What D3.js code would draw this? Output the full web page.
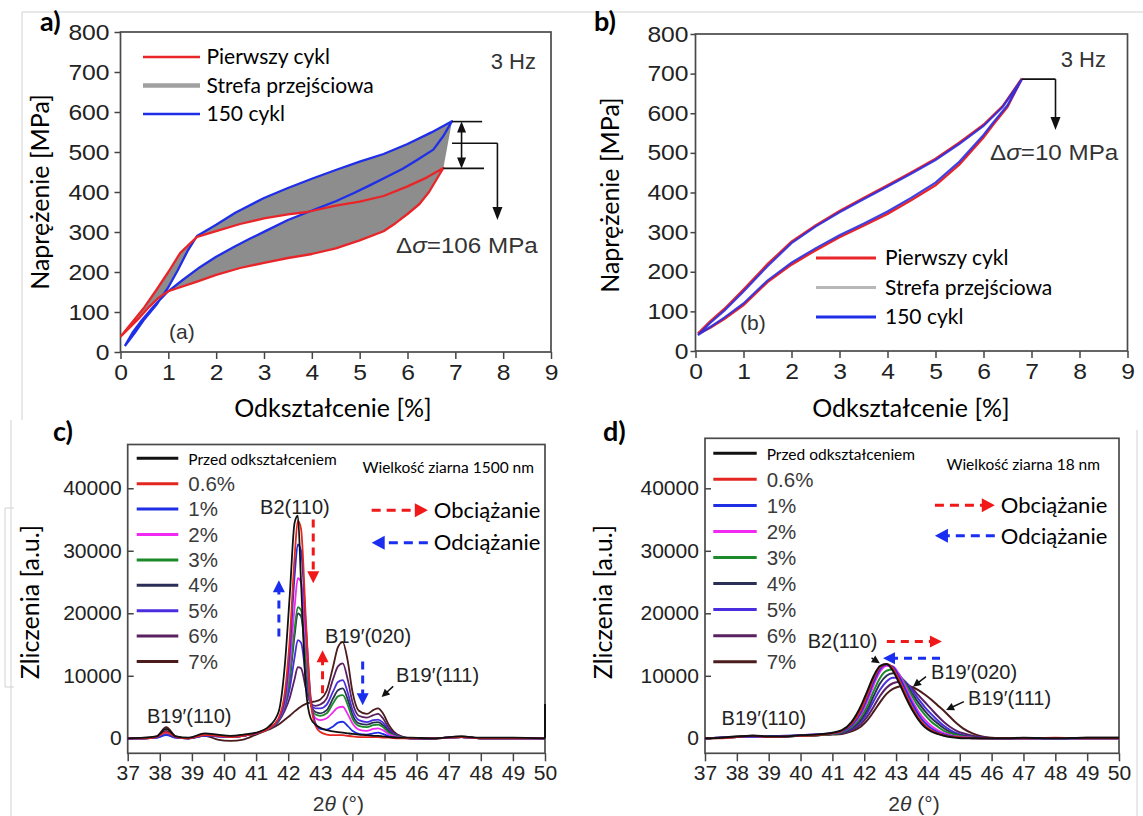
<!DOCTYPE html>
<html>
<head>
<meta charset="utf-8">
<script src="https://cdn.jsdelivr.net/npm/d3@7"></script>
<style>
  body { margin: 0; background: #fff; overflow: hidden; }
  svg { display: block; }
  text { font-family: "Liberation Sans", Arial, sans-serif; }
  .cal { font-family: Lato, "Open Sans", sans-serif; }
</style>
</head>
<body>
<svg id="fig" width="1143" height="816"></svg>
<script>
// ---- tick values
const strainTicks = [0, 1, 2, 3, 4, 5, 6, 7, 8, 9]
const stressTicks = [0, 100, 200, 300, 400, 500, 600, 700, 800]
const angleTicks = [37, 38, 39, 40, 41, 42, 43, 44, 45, 46, 47, 48, 49, 50]
const countTicks = [0, 10, 20, 30, 40]   // thousands

// ---- panel a: 1500 nm grain, strain [%] vs stress [MPa]
const aRedLoadX = [0, 0.25, 0.5, 0.75, 1.0, 1.25, 1.6, 2.0, 2.5, 3.0, 3.5, 3.9, 4.5, 5.0, 5.5, 6.0, 6.4, 6.75]
const aRedLoadY = [38, 75, 112, 155, 200, 248, 288, 302, 320, 334, 344, 350, 366, 376, 390, 414, 436, 460]
const aRedUnloadX = [6.75, 6.6, 6.45, 6.25, 6.0, 5.75, 5.5, 5.0, 4.5, 4.0, 3.5, 3.0, 2.5, 2.0, 1.6, 1.2, 1.0, 0.8, 0.6, 0.4, 0.2, 0]
const aRedUnloadY = [460, 430, 400, 370, 345, 322, 302, 279, 259, 245, 235, 223, 210, 193, 176, 160, 152, 136, 113, 86, 62, 38]
const aBlueLoadX = [0.09, 0.3, 0.5, 0.75, 1.0, 1.2, 1.4, 1.6, 2.0, 2.4, 3.0, 3.5, 4.0, 4.5, 5.0, 5.5, 6.0, 6.5, 6.93]
const aBlueLoadY = [15, 48, 82, 118, 162, 205, 252, 290, 318, 348, 385, 410, 433, 455, 476, 495, 520, 549, 577]
const aBlueUnloadX = [6.93, 6.75, 6.54, 6.2, 5.9, 5.57, 5.2, 4.87, 4.5, 4.03, 3.5, 3.06, 2.7, 2.36, 2.0, 1.66, 1.3, 0.97, 0.7, 0.45, 0.25, 0.09]
const aBlueUnloadY = [577, 540, 506, 480, 458, 438, 416, 397, 377, 355, 330, 304, 283, 262, 238, 212, 180, 149, 115, 80, 48, 15]

// ---- panel b: 18 nm grain
const bLoadX = [0.05, 0.3, 0.6, 1.0, 1.5, 2.0, 2.5, 3.0, 3.5, 4.0, 4.5, 5.0, 5.5, 6.0, 6.4, 6.8]
const bBlueLoadY = [40, 70, 102, 150, 214, 272, 314, 350, 383, 415, 448, 482, 523, 568, 616, 686]
const bRedLoadY = [44, 74, 106, 155, 219, 276, 317, 353, 386, 418, 451, 485, 526, 571, 618, 688]
const bUnloadX = [6.8, 6.5, 6.2, 6.0, 5.5, 5.0, 4.5, 4.0, 3.5, 3.0, 2.5, 2.0, 1.5, 1.0, 0.6, 0.3, 0.05]
const bBlueUnloadY = [686, 620, 576, 545, 478, 425, 387, 352, 321, 292, 259, 223, 178, 120, 84, 60, 40]
const bRedUnloadY = [688, 616, 571, 539, 471, 418, 381, 346, 316, 287, 254, 218, 174, 116, 81, 58, 44]

const loopLabels = ["Pierwszy cykl", "Strefa przejściowa", "150 cykl"]

// ---- panels c, d: XRD patterns, counts in thousands
const xrdLabels = ["Przed odkształceniem", "0.6%", "1%", "2%", "3%", "4%", "5%", "6%", "7%"]
const xrdColors = ["#111111", "#e3261f", "#1f2fe6", "#f02af0", "#1c8a2a", "#2b2f55", "#4b2de0", "#5a2060", "#4a1c1c"]

const angleC = [37, 37.5, 37.9, 38.2, 38.5, 38.9, 39.4, 39.8, 40.2, 40.6, 41.0, 41.4, 41.7, 41.9, 42.05, 42.2, 42.3, 42.4, 42.55, 42.7, 42.85, 43.0, 43.2, 43.4, 43.55, 43.7, 43.85, 44.0, 44.2, 44.45, 44.65, 44.8, 44.95, 45.15, 45.4, 45.8, 46.5, 47.4, 48.0, 49.0, 50]
const cBefore = [0, 0.1, 0.3, 1.5, 0.3, 0.1, 0.8, 0.6, 0.4, 0.6, 0.9, 1.9, 4.2, 12, 23, 34.5, 35.6, 25, 8, 3.2, 2.2, 1.7, 1.3, 1.1, 1.0, 0.9, 0.8, 0.7, 0.6, 0.5, 0.4, 0.4, 0.3, 0.2, 0.1, 0.1, 0, 0.3, 0.1, 0.1, 0]
const c06 = [0, 0, 0.2, 1.0, 0.2, 0, 0.5, 0.4, 0.2, 0.4, 0.8, 1.6, 3.2, 7.5, 16, 29, 34.8, 33.5, 19, 6, 2.0, 1.0, 0.6, 0.5, 0.5, 0.5, 0.4, 0.3, 0.2, 0.2, 0.2, 0.2, 0.1, 0.1, 0, 0, 0, 0.2, 0, 0, 0]
const c1 = [0, 0, 0.1, 0.5, 0.1, 0, 0.4, 0.3, 0.2, 0.4, 0.8, 1.6, 3.0, 6.5, 14, 26, 31, 30, 18, 6.5, 2.4, 1.5, 1.4, 1.9, 2.5, 2.65, 2.0, 1.2, 0.7, 0.6, 0.8, 0.9, 0.7, 0.3, 0.1, 0, 0, 0.2, 0, 0, 0]
const c2 = [0, 0, 0.2, 0.9, 0.2, 0, 0.5, 0.3, 0.2, 0.4, 0.8, 1.6, 3.0, 6.0, 12, 21, 25.6, 25, 15.5, 6, 3.2, 2.9, 3.2, 4.2, 4.9, 5.05, 3.9, 2.4, 1.4, 1.2, 1.5, 1.6, 1.3, 0.6, 0.2, 0, 0, 0.2, 0, 0, 0]
const c3 = [0, 0, 0.2, 0.8, 0.2, 0, 0.5, 0.3, 0.2, 0.4, 0.8, 1.6, 2.9, 5.5, 10, 17.5, 21, 20.5, 13, 5.5, 3.8, 3.6, 4.0, 5.6, 6.7, 6.9, 5.4, 3.2, 2.0, 1.8, 2.1, 2.2, 1.8, 0.8, 0.3, 0, 0, 0.2, 0, 0, 0]
const c4 = [0, 0, 0.2, 1.0, 0.2, 0, 0.6, 0.4, 0.2, 0.4, 0.8, 1.6, 2.9, 5.4, 9.5, 16.5, 20, 19.5, 12.5, 5.6, 4.2, 4.0, 4.5, 6.4, 7.7, 8.0, 6.3, 3.8, 2.4, 2.2, 2.5, 2.6, 2.1, 1.0, 0.3, 0, 0, 0.2, 0, 0, 0]
const c5 = [0, 0, 0.1, 0.6, 0.1, 0, 0.5, 0.3, 0.2, 0.4, 0.8, 1.6, 2.8, 5.0, 8.0, 13, 15.7, 15.3, 10, 5.5, 4.8, 4.8, 5.4, 7.5, 9.0, 9.3, 7.4, 4.6, 2.9, 2.6, 2.9, 3.0, 2.5, 1.2, 0.4, 0, 0, 0.2, 0, 0, 0]
const c6 = [0, 0, 0.2, 1.2, 0.2, 0, 0.6, 0.4, 0.2, 0.4, 0.8, 1.6, 2.7, 4.5, 6.5, 9.5, 11.4, 11.2, 8.0, 5.6, 5.2, 5.4, 6.4, 9.5, 11.5, 12.0, 9.5, 5.8, 3.6, 3.3, 3.7, 3.9, 3.2, 1.5, 0.5, 0, 0, 0.2, 0, 0, 0]
const c7 = [0, 0, 0.3, 1.8, 0.3, 0, 0.4, -0.2, -0.4, -0.2, 0.6, 1.4, 2.2, 3.0, 3.6, 4.3, 4.7, 5.1, 5.5, 5.8, 5.9, 6.2, 7.6, 11.5, 14.6, 15.4, 12.5, 7.5, 4.4, 3.9, 4.5, 4.8, 4.0, 2.0, 0.6, 0, -0.1, 0.3, 0, 0, 0]
const countsC = [cBefore, c06, c1, c2, c3, c4, c5, c6, c7]
const cEdgeSpikeX = [50, 50]
const cEdgeSpikeY = [0, 5.5]

const angleD = [37, 37.5, 38, 38.5, 39, 39.5, 40, 40.5, 41, 41.3, 41.6, 41.9, 42.1, 42.3, 42.5, 42.7, 42.9, 43.1, 43.3, 43.5, 43.7, 43.9, 44.1, 44.3, 44.5, 44.7, 44.9, 45.1, 45.4, 45.7, 46.0, 46.5, 47, 48, 49, 50]
const dBefore = [0, 0.1, 0.3, 0.4, 0.3, 0.3, 0.5, 0.6, 0.9, 1.3, 2.6, 5.2, 7.6, 10.0, 11.6, 11.9, 10.8, 8.8, 6.6, 4.6, 3.0, 1.8, 1.1, 0.7, 0.4, 0.2, 0.1, 0, 0, 0, 0, 0, 0.1, 0, 0.1, 0.1]
const d06 = [0, 0, 0.2, 0.4, 0.2, 0.3, 0.4, 0.5, 0.8, 1.2, 2.3, 4.6, 7.0, 9.6, 11.4, 11.9, 11.2, 9.3, 7.1, 5.0, 3.3, 2.1, 1.3, 0.8, 0.5, 0.3, 0.2, 0.1, 0, 0, 0, 0, 0, 0.1, 0, 0]
const d1 = [0, 0.1, 0.2, 0.3, 0.3, 0.4, 0.5, 0.6, 0.8, 1.1, 2.1, 4.2, 6.5, 9.1, 11.1, 11.8, 11.4, 9.8, 7.7, 5.6, 3.8, 2.5, 1.6, 1.0, 0.6, 0.4, 0.2, 0.1, 0, 0, 0, 0, 0, 0, 0, 0]
const d2 = [0, 0.1, 0.2, 0.3, 0.2, 0.3, 0.5, 0.6, 0.8, 1.1, 2.0, 3.9, 6.0, 8.6, 10.7, 11.6, 11.5, 10.2, 8.2, 6.1, 4.3, 3.0, 2.0, 1.3, 0.8, 0.5, 0.3, 0.2, 0.1, 0, 0, 0, 0, 0, 0, 0]
const d3s = [0, 0.1, 0.2, 0.3, 0.3, 0.3, 0.4, 0.5, 0.7, 1.0, 1.8, 3.4, 5.2, 7.6, 9.7, 10.8, 11.0, 10.2, 8.6, 6.8, 5.1, 3.8, 2.7, 1.9, 1.2, 0.8, 0.5, 0.3, 0.1, 0, 0, 0, 0, 0, 0, 0]
const d4 = [0, 0.1, 0.3, 0.4, 0.3, 0.3, 0.4, 0.5, 0.7, 0.9, 1.6, 3.0, 4.6, 6.8, 8.8, 10.0, 10.4, 10.0, 8.8, 7.2, 5.7, 4.4, 3.3, 2.4, 1.6, 1.0, 0.6, 0.4, 0.2, 0, 0, 0, 0, 0, 0, 0]
const d5 = [0, 0.1, 0.2, 0.3, 0.3, 0.3, 0.4, 0.5, 0.7, 0.9, 1.5, 2.7, 4.1, 6.0, 7.8, 9.1, 9.7, 9.7, 9.0, 7.7, 6.3, 5.0, 3.9, 2.9, 2.0, 1.3, 0.8, 0.5, 0.2, 0.1, 0, 0, 0, 0, 0, 0]
const d6 = [0, 0.1, 0.2, 0.3, 0.3, 0.3, 0.4, 0.5, 0.7, 0.8, 1.3, 2.3, 3.5, 5.1, 6.8, 8.1, 8.8, 9.0, 8.8, 8.0, 6.9, 5.8, 4.7, 3.6, 2.6, 1.8, 1.2, 0.8, 0.4, 0.2, 0, 0, 0, 0, 0, 0]
const d7 = [0, 0.1, 0.2, 0.3, 0.3, 0.3, 0.4, 0.5, 0.6, 0.7, 1.1, 1.9, 2.9, 4.3, 5.8, 7.1, 7.9, 8.3, 8.4, 8.2, 7.7, 7.0, 6.2, 5.3, 4.4, 3.4, 2.4, 1.6, 0.8, 0.3, 0.1, 0, 0, 0, 0.1, 0.1]
const countsD = [dBefore, d06, d1, d2, d3s, d4, d5, d6, d7]

const zip = (xs, ys) => xs.map((x, i) => [x, ys[i]])

const svg = d3.select("#fig")

// faint border lines left over from the pasted figure
const faint = svg.append("g").attr("stroke", "#d2d2d2").attr("fill", "none").attr("stroke-width", 1)
faint.append("path").attr("d", "M22,12H1143M22,12V420M11,420V816M14,508H5V687H14M1137,430V816")

function stretch(sel, k) {
  sel.each(function () {
    const w = this.getComputedTextLength()
    d3.select(this).attr("textLength", w * k).attr("lengthAdjust", "spacingAndGlyphs")
  })
}

function axes(g, x, y, o) {
  const ax = g.append("g").attr("transform", `translate(0,${y.range()[0]})`)
    .call(d3.axisBottom(x).tickValues(o.xt).tickSize(o.xs).tickPadding(o.xp))
  const ay = g.append("g").attr("transform", `translate(${x.range()[0]},0)`)
    .call(d3.axisLeft(y).tickValues(o.yt).tickSize(o.ys).tickPadding(o.yp).tickFormat(o.yf || (d => d)))
  for (const a of [ax, ay]) {
    a.select(".domain").remove()
    a.selectAll("line").attr("stroke", "#444").attr("stroke-width", 1.5)
    a.selectAll("text").attr("font-size", o.fs).attr("fill", "#222")
      .attr("font-family", "Liberation Sans, Arial, sans-serif")
    stretch(a.selectAll("text"), o.k)
  }
  g.append("rect")
    .attr("x", x.range()[0]).attr("y", y.range()[1])
    .attr("width", x.range()[1] - x.range()[0]).attr("height", y.range()[0] - y.range()[1])
    .attr("fill", "none").attr("stroke", "#4a4a4a").attr("stroke-width", 1.7)
}

function label(g, txt, x, y, o = {}) {
  const t = g.append("text").attr("x", x).attr("y", y).text(txt)
    .attr("font-size", o.fs || 20).attr("fill", o.fill || "#000")
    .attr("text-anchor", o.anchor || "start").attr("dy", "0.35em")
  if (o.cal) t.attr("class", "cal")
  if (o.bold) t.attr("font-weight", "bold")
  if (o.rot) t.attr("transform", `rotate(-90,${x},${y})`)
  if (o.k) stretch(t, o.k)
  return t
}

function deltaSigma(g, txt, x, y) {
  const t = g.append("text").attr("x", x).attr("y", y).attr("dy", "0.35em")
    .attr("font-size", 22).attr("fill", "#333")
  t.append("tspan").text("Δ")
  t.append("tspan").text("σ").attr("font-style", "italic")
  t.append("tspan").text(txt)
  stretch(t, 1.1)
}

function arrow(g, x1, y1, x2, y2, color, o = {}) {
  const head = o.head || 12, hw = o.hw || 6
  const dx = x2 - x1, dy = y2 - y1, L = Math.hypot(dx, dy)
  const ux = dx / L, uy = dy / L
  const bx = x2 - ux * head, by = y2 - uy * head
  g.append("line").attr("x1", x1).attr("y1", y1).attr("x2", bx + ux * 1).attr("y2", by + uy * 1)
    .attr("stroke", color).attr("stroke-width", o.w || 3)
    .attr("stroke-dasharray", o.dash || null)
  g.append("path")
    .attr("d", `M${x2},${y2}L${bx - uy * hw},${by + ux * hw}L${bx + uy * hw},${by - ux * hw}Z`)
    .attr("fill", color)
}

// ================= panel a =================
{
  const g = svg.append("g")
  const x = d3.scaleLinear().domain([0, 9]).range([120.5, 551])
  const y = d3.scaleLinear().domain([0, 800]).range([352, 32])
  const line = d3.line().x(d => x(d[0])).y(d => y(d[1]))

  const redLoad = zip(aRedLoadX, aRedLoadY), redUnload = zip(aRedUnloadX, aRedUnloadY)
  const blueLoad = zip(aBlueLoadX, aBlueLoadY), blueUnload = zip(aBlueUnloadX, aBlueUnloadY)

  const outer = [...redLoad.filter(p => p[0] <= 1.6), ...blueLoad.filter(p => p[0] > 1.6), ...redUnload]
  const lens = [...blueLoad.filter(p => p[0] >= 0.97 && p[0] <= 1.6),
                ...redLoad.filter(p => p[0] > 1.6 && p[0] <= 3.9),
                ...blueUnload.filter(p => p[0] >= 0.97 && p[0] <= 3.9)]
  g.append("path").attr("d", line(outer) + "Z").attr("fill", "#8d8d8d")
  g.append("path").attr("d", line(lens) + "Z").attr("fill", "#fff")

  axes(g, x, y, { xt: strainTicks, yt: stressTicks, xs: 7, xp: 5, ys: 6, yp: 5, fs: 22, k: 1.12 })

  g.append("path").attr("d", line([...blueLoad, ...blueUnload])).attr("fill", "none")
    .attr("stroke", "#1f2fe8").attr("stroke-width", 2.3).attr("stroke-linejoin", "round")
  g.append("path").attr("d", line([...redLoad, ...redUnload])).attr("fill", "none")
    .attr("stroke", "#e8262a").attr("stroke-width", 2.3).attr("stroke-linejoin", "round")

  // legend
  const lc = ["#e8262a", "#a0a0a0", "#1f2fe8"], lw = [2.5, 4.5, 2.5]
  loopLabels.forEach((t, i) => {
    const ly = 57 + i * 28.5
    g.append("line").attr("x1", 143).attr("x2", 200).attr("y1", ly).attr("y2", ly)
      .attr("stroke", lc[i]).attr("stroke-width", lw[i])
    label(g, t, 206.5, ly, { fs: 21, cal: true })
  })
  label(g, "3 Hz", 536, 61, { fs: 22, anchor: "end", fill: "#333" })
  label(g, "(a)", 169, 332, { fs: 21, fill: "#333" })

  // hysteresis drop annotation
  const ann = g.append("g").attr("stroke", "#111").attr("stroke-width", 1.6).attr("fill", "none")
  ann.append("line").attr("x1", x(6.93)).attr("x2", x(7.56)).attr("y1", y(576)).attr("y2", y(576))
  ann.append("line").attr("x1", x(6.93)).attr("x2", x(7.88)).attr("y1", y(522)).attr("y2", y(522))
  ann.append("line").attr("x1", x(6.75)).attr("x2", x(7.6)).attr("y1", y(459)).attr("y2", y(459))
  arrow(g, x(7.13), y(522), x(7.13), y(576), "#111", { w: 1.6, head: 11, hw: 4.5 })
  arrow(g, x(7.13), y(522), x(7.13), y(459), "#111", { w: 1.6, head: 11, hw: 4.5 })
  arrow(g, x(7.88), y(522), x(7.88), y(330), "#111", { w: 1.6, head: 13, hw: 5 })
  deltaSigma(g, "=106 MPa", 396, y(267))

  label(g, "Naprężenie [MPa]", 40, 192, { fs: 25, cal: true, anchor: "middle", rot: true })
  label(g, "Odkształcenie [%]", 333, 408, { fs: 25, cal: true, anchor: "middle" })
  label(g, "a)", 40, 22, { fs: 27, cal: true, bold: true })
}

// ================= panel b =================
{
  const g = svg.append("g")
  const x = d3.scaleLinear().domain([0, 9]).range([695.5, 1127.5])
  const y = d3.scaleLinear().domain([0, 800]).range([351, 34])
  const line = d3.line().x(d => x(d[0])).y(d => y(d[1]))

  axes(g, x, y, { xt: strainTicks, yt: stressTicks, xs: 7, xp: 5, ys: 5, yp: 2, fs: 22, k: 1.12 })

  g.append("path").attr("d", line([...zip(bLoadX, bRedLoadY), ...zip(bUnloadX, bRedUnloadY)]))
    .attr("fill", "none").attr("stroke", "#e8262a").attr("stroke-width", 2.4)
  g.append("path").attr("d", line([...zip(bLoadX, bBlueLoadY), ...zip(bUnloadX, bBlueUnloadY)]))
    .attr("fill", "none").attr("stroke", "#2a2ee0").attr("stroke-width", 2.2).attr("opacity", 0.9)

  const lc = ["#e8262a", "#b8b8b8", "#1f2fe8"]
  loopLabels.forEach((t, i) => {
    const ly = 258 + i * 29.5
    g.append("line").attr("x1", 816).attr("x2", 876).attr("y1", ly).attr("y2", ly)
      .attr("stroke", lc[i]).attr("stroke-width", 3)
    label(g, t, 885, ly, { fs: 21, cal: true })
  })
  label(g, "3 Hz", 1106, 59, { fs: 22, anchor: "end", fill: "#333" })
  label(g, "(b)", 740, 323, { fs: 21, fill: "#333" })

  g.append("line").attr("x1", x(6.8)).attr("x2", x(7.5)).attr("y1", y(686)).attr("y2", y(686))
    .attr("stroke", "#111").attr("stroke-width", 1.6)
  arrow(g, x(7.5), y(686), x(7.5), y(558), "#111", { w: 1.6, head: 13, hw: 5 })
  deltaSigma(g, "=10 MPa", 990, y(502))

  label(g, "Naprężenie [MPa]", 610, 195, { fs: 25, cal: true, anchor: "middle", rot: true })
  label(g, "Odkształcenie [%]", 911, 408, { fs: 25, cal: true, anchor: "middle" })
  label(g, "b)", 594, 22, { fs: 27, cal: true, bold: true })
}

// ================= XRD panels =================
function xrdPanel(o) {
  const g = svg.append("g")
  const x = d3.scaleLinear().domain([37, 50]).range(o.xr)
  const y = d3.scaleLinear().domain(o.yd).range([753.3, o.top])
  const line = d3.line().x(d => x(d[0])).y(d => y(d[1])).curve(d3.curveMonotoneX)

  axes(g, x, y, { xt: angleTicks, yt: countTicks, xs: 8, xp: 5, ys: -6, yp: 6, fs: 19.5, k: 1.08,
    yf: d => d * 1000 })

  const order = [8, 7, 6, 5, 4, 3, 2, 1, 0]
  order.forEach(i => {
    g.append("path").attr("d", line(zip(o.angles, o.counts[i]))).attr("fill", "none")
      .attr("stroke", xrdColors[i]).attr("stroke-width", o.lw).attr("stroke-linejoin", "round")
  })
  if (o.spike) g.append("path").attr("d", d3.line().x(d => x(d[0])).y(d => y(d[1]))(o.spike))
    .attr("stroke", "#111").attr("stroke-width", 2)

  // legend
  xrdLabels.forEach((t, i) => {
    const ly = o.legY + i * o.legDy
    g.append("line").attr("x1", o.legX[0]).attr("x2", o.legX[1]).attr("y1", ly).attr("y2", ly)
      .attr("stroke", xrdColors[i]).attr("stroke-width", 3)
    if (i === 0) label(g, t, o.legX[1] + 10, ly + 1, { fs: 15.5, cal: true })
    else label(g, t, o.legX[1] + 10, ly, { fs: 20.5, fill: "#3a3a3a" })
  })
  label(g, o.grain, o.grainX, o.grainY, { fs: 15.5, cal: true, anchor: "end" })

  // loading / unloading key
  arrow(g, x(o.keyX[0]), y(o.keyY[0]), x(o.keyX[1]), y(o.keyY[0]), "#f01818", { dash: "9,6", head: 13, hw: 7 })
  arrow(g, x(o.keyX[1]), y(o.keyY[1]), x(o.keyX[0]), y(o.keyY[1]), "#1a2ef0", { dash: "9,6", head: 13, hw: 7 })
  label(g, "Obciążanie", x(o.keyX[1]) + 6, y(o.keyY[0]), { fs: 22, cal: true })
  label(g, "Odciążanie", x(o.keyX[1]) + 6, y(o.keyY[1]), { fs: 22, cal: true })

  label(g, "Zliczenia [a.u.]", o.ylabX, 602, { fs: 25, cal: true, anchor: "middle", rot: true })
  const xt = g.append("text").attr("x", (o.xr[0] + o.xr[1]) / 2 + 2).attr("y", 804).attr("dy", "0.35em")
    .attr("text-anchor", "middle").attr("font-size", 21).attr("fill", "#333")
  xt.append("tspan").text("2")
  xt.append("tspan").text("θ").attr("font-style", "italic")
  xt.append("tspan").text(" (°)")
  label(g, o.tag, o.tagX, 432, { fs: 27, cal: true, bold: true })
  return { g, x, y }
}

// ---- panel c
{
  const { g, x, y } = xrdPanel({
    xr: [127.7, 545], yd: [-2.4, 47], top: 444.5, angles: angleC, counts: countsC, lw: 1.8,
    spike: zip(cEdgeSpikeX, cEdgeSpikeY),
    legX: [136.7, 178.3], legY: 458.3, legDy: 25.4,
    grain: "Wielkość ziarna 1500 nm", grainX: 534, grainY: 468,
    keyX: [44.6, 46.35], keyY: [36.5, 31.3],
    ylabX: 30, tag: "c)", tagX: 53
  })
  const dash = { dash: "8,6", head: 12, hw: 6 }
  arrow(g, x(42.78), y(35), x(42.78), y(24.8), "#f01818", dash)
  arrow(g, x(41.71), y(16.3), x(41.71), y(25.3), "#1a2ef0", dash)
  arrow(g, x(43.07), y(7.2), x(43.07), y(14.1), "#f01818", dash)
  arrow(g, x(44.32), y(12.3), x(44.32), y(5.3), "#1a2ef0", dash)
  arrow(g, x(45.27), y(8.3), x(44.91), y(6.6), "#111", { w: 1.5, head: 8, hw: 4 })
  label(g, "B2(110)", x(42.21), y(37), { fs: 20, anchor: "middle", fill: "#222" })
  label(g, "B19′(020)", x(43.15), y(16.3), { fs: 20, fill: "#222" })
  label(g, "B19′(111)", x(45.36), y(10.1), { fs: 20, fill: "#222" })
  label(g, "B19′(110)", x(37.6), y(3.5), { fs: 20, fill: "#222" })
}

// ---- panel d
{
  const { g, x, y } = xrdPanel({
    xr: [705, 1119], yd: [-2.4, 48], top: 438.3, angles: angleD, counts: countsD, lw: 2,
    legX: [713.3, 756.7], legY: 453.3, legDy: 26.05,
    grain: "Wielkość ziarna 18 nm", grainX: 1100, grainY: 465,
    keyX: [44.22, 46.1], keyY: [37.3, 32.4],
    ylabX: 603, tag: "d)", tagX: 603
  })
  const dash = { dash: "8,6", head: 12, hw: 6 }
  arrow(g, x(42.71), y(15.5), x(44.44), y(15.5), "#f01818", dash)
  arrow(g, x(44.38), y(12.8), x(42.59), y(12.8), "#1a2ef0", dash)
  arrow(g, x(42.23), y(12.85), x(42.49), y(12.0), "#111", { w: 1.5, head: 8, hw: 4 })
  arrow(g, x(43.94), y(9.86), x(43.53), y(8.26), "#111", { w: 1.5, head: 8, hw: 4 })
  arrow(g, x(45.13), y(5.86), x(44.57), y(4.53), "#111", { w: 1.5, head: 8, hw: 4 })
  label(g, "B2(110)", x(41.32), y(15.5), { fs: 20, anchor: "middle", fill: "#222" })
  label(g, "B19′(020)", x(44.1), y(10.6), { fs: 20, fill: "#222" })
  label(g, "B19′(111)", x(45.26), y(6.5), { fs: 20, fill: "#222" })
  label(g, "B19′(110)", x(37.52), y(3.25), { fs: 20, fill: "#222" })
}
</script>
</body>
</html>
